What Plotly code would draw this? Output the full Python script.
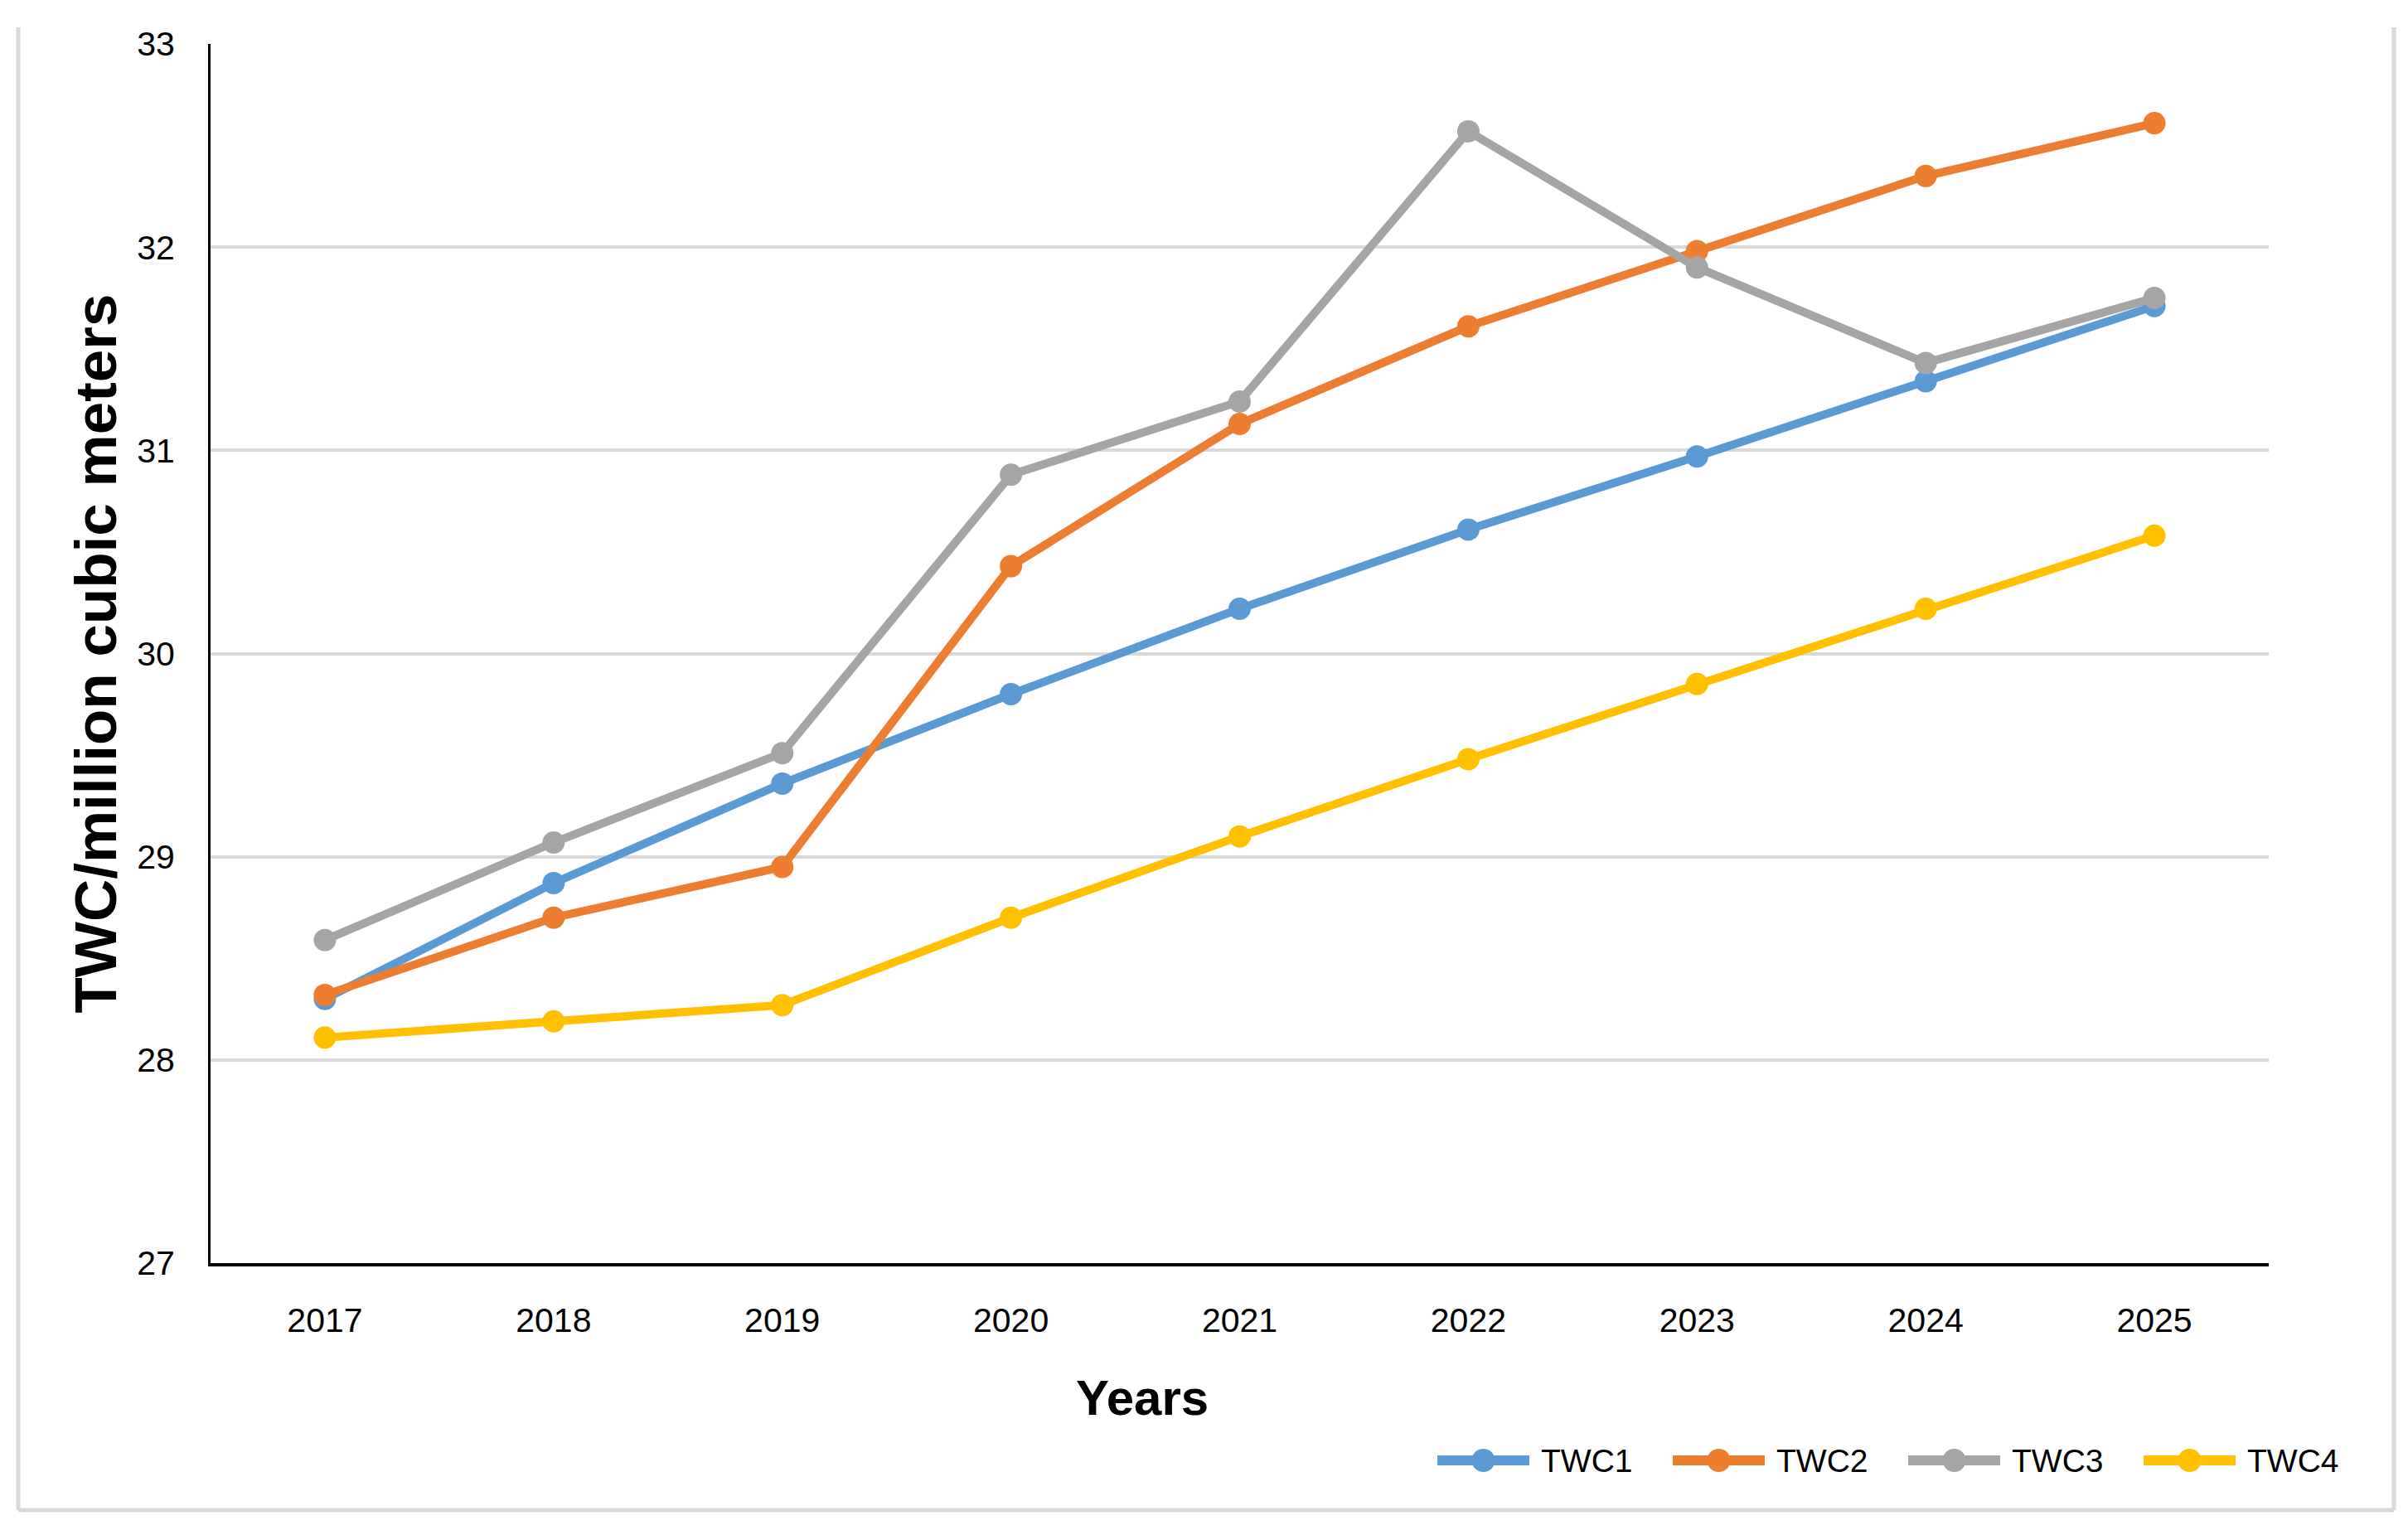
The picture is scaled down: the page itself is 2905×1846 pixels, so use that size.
import plotly.graph_objects as go

years = ["2017", "2018", "2019", "2020", "2021", "2022", "2023", "2024", "2025"]
twc1 = [28.30, 28.87, 29.36, 29.80, 30.22, 30.61, 30.97, 31.34, 31.71]
twc2 = [28.32, 28.70, 28.95, 30.43, 31.13, 31.61, 31.98, 32.35, 32.61]
twc3 = [28.59, 29.07, 29.51, 30.88, 31.24, 32.57, 31.90, 31.43, 31.75]
twc4 = [28.11, 28.19, 28.27, 28.70, 29.10, 29.48, 29.85, 30.22, 30.58]
names = ["TWC1", "TWC2", "TWC3", "TWC4"]
colors = ["#5B9BD5", "#ED7D31", "#A5A5A5", "#FFC000"]

# the page body has an 8px margin, so work in screen pixels and shift
OFF = 8
W, H = 2905 - OFF, 1846 - 2 * OFF
left, right, top, bottom = 254, 2737, 53, 1524   # plot box on screen
L, T = left - OFF, top - OFF
R, B = W - (right - OFF), H - (bottom - OFF)
pw, ph = W - L - R, H - T - B

def px_x(sx):
    return (sx - OFF - L) / pw

def px_y(sy):
    return (H - B - (sy - OFF)) / ph

font = "Liberation Sans, Arial"

fig = go.Figure()
for name, vals, col in zip(names, [twc1, twc2, twc3, twc4], colors):
    fig.add_trace(go.Scatter(x=years, y=vals, name=name, mode="lines+markers",
                             line=dict(color=col, width=10),
                             marker=dict(color=col, size=27, symbol="circle")))

fig.update_layout(
    width=W, height=H,
    margin=dict(l=L, r=R, t=T, b=B),
    paper_bgcolor="white", plot_bgcolor="white",
    showlegend=False,
)
fig.update_xaxes(type="category", range=[-0.5, 8.5], showgrid=False,
                 showline=True, linecolor="black", linewidth=4,
                 ticks="", ticklabelstandoff=30,
                 tickfont=dict(family=font, size=41, color="black"))
fig.update_yaxes(range=[27, 33], dtick=1, showgrid=True, gridcolor="#d9d9d9",
                 gridwidth=4, zeroline=False, showline=True, linecolor="black",
                 linewidth=3, ticks="", ticklabelstandoff=32,
                 tickfont=dict(family=font, size=41, color="black"))

# axis titles
fig.add_annotation(text="<b>TWC/million cubic meters</b>", textangle=-90,
                   xref="paper", yref="paper", x=px_x(115), y=0.5,
                   xanchor="center", yanchor="middle", showarrow=False,
                   font=dict(family=font, size=71, color="black"))
fig.add_annotation(text="<b>Years</b>", xref="paper", yref="paper",
                   x=px_x(1378), y=px_y(1686), xanchor="center", yanchor="middle",
                   showarrow=False, font=dict(family=font, size=60, color="black"))

# legend drawn by hand so the line samples are long like the original
x0, step, seg = 1734, 284, 111
ly = px_y(1762)
for i, (name, col) in enumerate(zip(names, colors)):
    a = x0 + i * step
    fig.add_shape(type="line", xref="paper", yref="paper",
                  x0=px_x(a), x1=px_x(a + seg), y0=ly, y1=ly,
                  line=dict(color=col, width=12))
    c = a + seg / 2
    fig.add_shape(type="circle", xref="paper", yref="paper",
                  x0=px_x(c - 14), x1=px_x(c + 14),
                  y0=ly - 14 / ph, y1=ly + 14 / ph,
                  line=dict(color=col, width=0), fillcolor=col)
    fig.add_annotation(text=name, xref="paper", yref="paper",
                       x=px_x(a + seg + 12), y=ly, xanchor="left", yanchor="middle",
                       showarrow=False,
                       font=dict(family=font, size=39, color="black"))

# light grey frame around the chart (top edge is cropped in the original)
for xa, ya, xb, yb in [(22, 33, 22, 1822), (2888, 33, 2888, 1822), (22, 1822, 2888, 1822)]:
    fig.add_shape(type="line", xref="paper", yref="paper",
                  x0=px_x(xa), y0=px_y(ya), x1=px_x(xb), y1=px_y(yb),
                  line=dict(color="#d9d9d9", width=5))

fig.write_html("out.html")
